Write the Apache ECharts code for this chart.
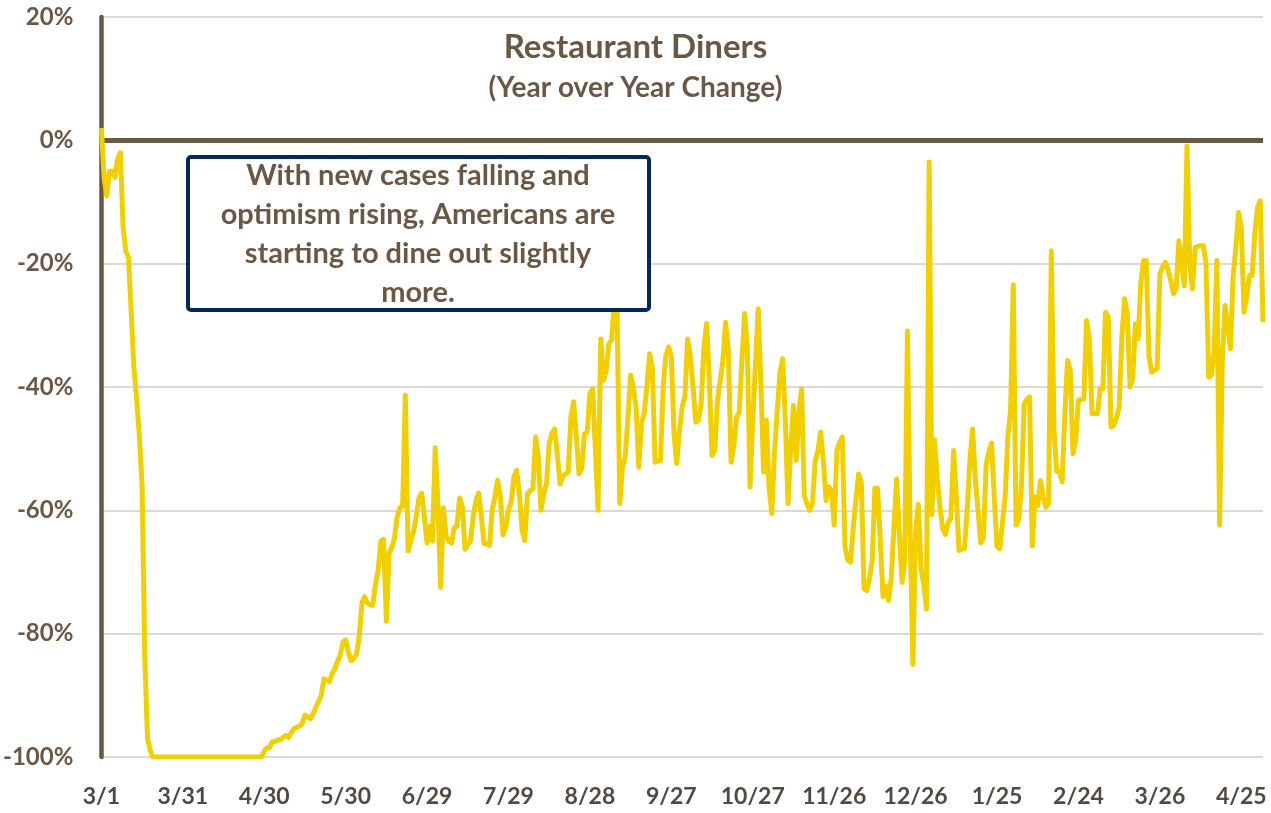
<!DOCTYPE html>
<html>
<head>
<meta charset="utf-8">
<style>
  html, body { margin: 0; padding: 0; background: #fff; }
  #chart { width: 1271px; height: 813px; }
</style>
</head>
<body>
<div id="chart"></div>
<script src="https://cdn.jsdelivr.net/npm/echarts/dist/echarts.min.js"></script>
<script>
  // Daily restaurant diners, YoY % change, starting 3/1/2020.
  const startDate = [2020, 2, 1];
  const diners = [
    2, -6, -9, -5, -5, -6, -3, -2, -14, -18,
    -19, -28, -37, -42, -48, -56, -84, -97, -99, -100,
    -100, -100, -100, -100, -100, -100, -100, -100, -100, -100,
    -100, -100, -100, -100, -100, -100, -100, -100, -100, -100,
    -100, -100, -100, -100, -100, -100, -100, -100, -100, -100,
    -100, -100, -100, -100, -100, -100, -100, -100, -100, -100,
    -99, -98.5, -98.5, -97.5, -97.5, -97.2, -97.2, -96.8, -96.5, -96.8,
    -96, -95.4, -95.2, -95, -94.6, -93.2, -93.5, -93.8, -93, -92,
    -91, -90, -87.3, -87.5, -87.8, -86.5, -85.7, -84.5, -83.5, -81.4,
    -81, -83, -84.4, -84, -83.3, -80.5, -75, -74, -75, -75.3,
    -75.4, -72, -69.6, -65, -64.7, -78, -67, -66, -64.5, -61,
    -59.6, -59.4, -41.3, -66.6, -65, -63.5, -61, -58, -57.2, -61,
    -65.3, -62.6, -65, -49.8, -58.8, -72.5, -59.6, -64.2, -65, -65.3,
    -62.8, -62.6, -58, -59.4, -66.3, -65.5, -65, -61, -58.5, -57.2,
    -61, -65.4, -65.4, -65.7, -60, -57.8, -55.1, -57.8, -64, -62.7,
    -60, -58.6, -54.6, -53.5, -57.3, -63.2, -64.9, -57.3, -56.8, -56.5,
    -48.1, -51.4, -60, -57.3, -55.7, -49.2, -47.5, -46.8, -51, -55.7,
    -54.5, -54.1, -53.8, -44.9, -42.4, -48, -54.1, -53.2, -47.6, -47.3,
    -41.1, -40.3, -50, -60, -32.2, -38.9, -37.3, -33, -32.4, -26,
    -27, -58.9, -53, -51.4, -45, -38.1, -40, -43.2, -53, -45.9,
    -44.3, -40, -34.6, -36.8, -52.2, -52, -51.9, -40, -34.9, -33.5,
    -35.1, -47.6, -52.4, -47, -43.2, -41.6, -32.2, -35.1, -40, -45.7,
    -45.4, -42.7, -33.5, -29.7, -38.9, -51.1, -50.3, -42.2, -39, -35.7,
    -29.5, -34.1, -52.2, -49.7, -45, -44.1, -35.7, -28.1, -33.5, -56.2,
    -45.4, -36.2, -27.3, -39.5, -53.8, -45.4, -56.2, -60.5, -50.8, -44,
    -37.8, -35.4, -45.4, -58.9, -49.7, -43, -51.9, -44.3, -40.3, -57.6,
    -59, -60, -58.9, -52, -50.3, -47.3, -52, -58.4, -56.2, -56.8,
    -62.4, -50.3, -49, -48.1, -65.9, -68.1, -68.4, -63, -58.4, -54.1,
    -55.5, -72.7, -73, -71, -68.2, -56.4, -56.4, -65, -74, -72.3,
    -74.6, -71.1, -63, -54.9, -63.6, -71.7, -68.2, -30.9, -63.6, -85,
    -63.6, -59, -69.4, -72, -76, -3.5, -60.7, -48.6, -55, -59.5,
    -63, -63.9, -62, -61.3, -50.3, -57.8, -66.5, -66.3, -66.2, -60.1,
    -52, -46.8, -54.9, -60, -65.3, -64.5, -52.6, -50.5, -49.1, -58,
    -65.9, -66.2, -62, -57.8, -48, -43.9, -23.4, -62.4, -61.6, -56.1,
    -42.8, -42, -41.6, -65.8, -57.8, -59.2, -55.2, -57.8, -59.5, -59,
    -17.9, -47, -53.7, -53.7, -55.4, -44.3, -35.7, -37.3, -50.8, -48.6,
    -42.2, -42, -41.9, -29.2, -32.2, -44.3, -44.3, -44.3, -40.3, -40.3,
    -27.9, -28.7, -46.5, -46.2, -45, -43.2, -31.9, -25.7, -28.1, -40,
    -38.7, -29.8, -32.2, -23, -19.5, -19.5, -35.1, -37.6, -37.3, -37,
    -21.7, -20.5, -19.8, -21, -22.7, -24.9, -24, -16.3, -20, -23.6,
    -0.9, -20, -24.1, -17.4, -17.2, -17.1, -17.1, -20, -38.4, -38.1,
    -34.1, -19.5, -62.4, -35.7, -26.8, -30, -33.8, -22, -17.4, -11.7,
    -14.1, -27.9, -25.4, -21.9, -21.9, -15, -10.9, -9.8, -29.5
  ];
  const yRange = [-100, 20, 20]; // min, max, step
  const noteLines = [
    'With new cases falling and',
    'optimism rising, Americans are',
    'starting to dine out slightly',
    'more.'
  ];

  // m/d labels, one per day
  const dates = diners.map((v, i) => {
    const d = new Date(startDate[0], startDate[1], startDate[2] + i);
    return (d.getMonth() + 1) + '/' + d.getDate();
  });

  const FONT = 'Lato';
  const BROWN = '#6b5844';

  const option = {
    animation: false,
    title: {
      text: 'Restaurant Diners',
      subtext: '(Year over Year Change)',
      left: 'center',
      top: 26,
      itemGap: 10,
      textStyle: { fontFamily: FONT, fontWeight: 'bold', fontSize: 33, color: BROWN },
      subtextStyle: { fontFamily: FONT, fontWeight: 'bold', fontSize: 28, color: BROWN }
    },
    grid: { left: 101, right: 8, top: 17, bottom: 56 },
    xAxis: {
      type: 'category',
      data: dates,
      boundaryGap: false,
      axisLine: { show: false },
      axisTick: { show: false },
      axisLabel: {
        interval: 29,
        margin: 28,
        fontFamily: FONT,
        fontWeight: 'bold',
        fontSize: 23,
        color: '#524a40'
      },
      splitLine: { show: false }
    },
    yAxis: {
      type: 'value',
      min: yRange[0],
      max: yRange[1],
      interval: yRange[2],
      axisLine: { show: true, lineStyle: { color: '#6b5844', width: 4.5 } },
      axisTick: { show: false },
      axisLabel: {
        margin: 28,
        formatter: '{value}%',
        fontFamily: FONT,
        fontWeight: 'bold',
        fontSize: 24,
        color: BROWN
      },
      splitLine: { lineStyle: { color: '#dcd8d2', width: 2 } }
    },
    series: [{
      type: 'line',
      data: diners,
      showSymbol: false,
      lineStyle: { color: '#f2cf00', width: 5, join: 'round' },
      itemStyle: { color: '#f2cf00' },
      z: 3,
      markLine: {
        silent: true,
        symbol: 'none',
        label: { show: false },
        lineStyle: { color: '#6b5844', width: 5, type: 'solid' },
        data: [{ yAxis: 0 }],
        z: 2
      }
    }],
    graphic: [{
      type: 'group',
      left: 186,
      top: 155,
      z: 100,
      children: [{
        type: 'rect',
        z: 100,
        shape: { x: 0, y: 0, width: 461, height: 153, r: 3 },
        style: { fill: '#fff', stroke: '#002a5c', lineWidth: 4 }
      }, {
        type: 'text',
        z: 101,
        x: 230,
        y: 77,
        style: {
          text: noteLines.join('\n'),
          fontFamily: FONT,
          fontWeight: 'bold',
          fontSize: 29,
          lineHeight: 39,
          fill: BROWN,
          align: 'center',
          verticalAlign: 'middle'
        }
      }]
    }]
  };

  echarts.init(document.getElementById('chart')).setOption(option);
</script>
</body>
</html>
